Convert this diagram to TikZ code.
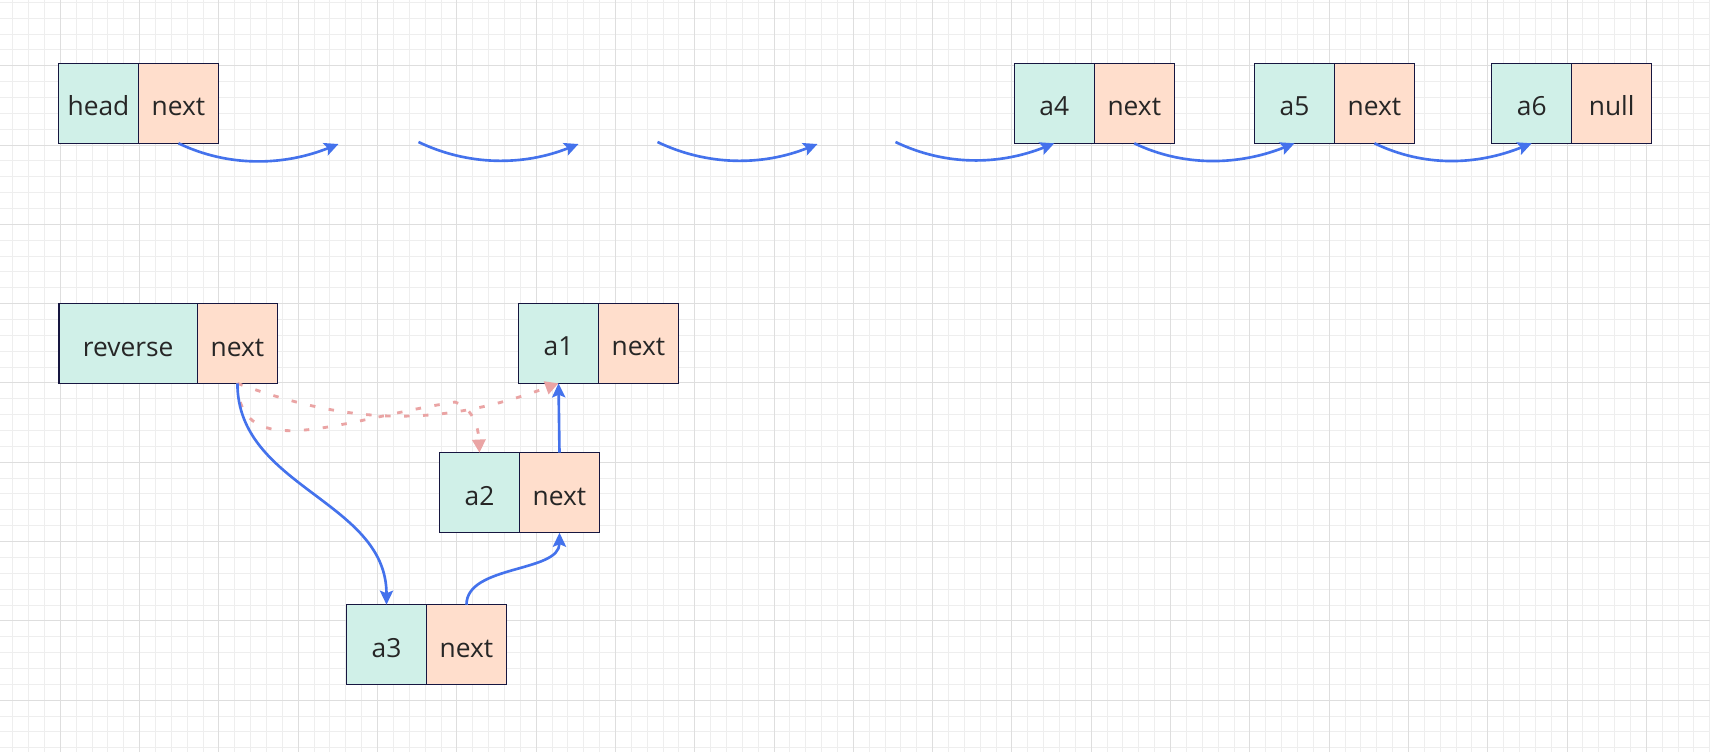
\documentclass[tikz,border=0pt]{standalone}
\usepackage{fontspec}
\setmainfont{Open Sans}
\usetikzlibrary{positioning,arrows.meta}
\definecolor{valcol}{RGB}{208,240,232}
\definecolor{nextcol}{RGB}{255,222,204}
\definecolor{boxline}{RGB}{22,22,64}
\definecolor{linkcol}{RGB}{68,114,236}
\definecolor{oldcol}{RGB}{234,164,164}
\definecolor{minorcol}{RGB}{238,238,238}
\definecolor{majorcol}{RGB}{222,222,222}
\tikzset{
  cell/.style={draw=boxline,line width=0.7pt,minimum width=1.6cm,minimum height=1.6cm,inner sep=0pt,outer sep=0pt,text height=14.4pt,text depth=0pt,font=\fontsize{15}{18}\selectfont,text=black!85},
  val/.style={cell,fill=valcol},
  nxt/.style={cell,fill=nextcol},
  link/.style={draw=linkcol,line width=1.5pt,-{Stealth[length=8pt,width=7.5pt,inset=1.5pt]}},
  oldlink/.style={draw=oldcol,line width=1.6pt,dash pattern=on 3.1pt off 7.7pt,-{Triangle[length=7.5pt,width=7.5pt]}},
  minorgrid/.style={draw=minorcol,line width=0.5pt},
  majorgrid/.style={draw=majorcol,line width=0.55pt}
}
\begin{document}
\begin{tikzpicture}[x=0.02cm,y=-0.02cm]
\useasboundingbox (0,0) rectangle (1710,752);
\fill[white] (0,0) rectangle (1710,752);

%%%%%%%%%%%%%%%%%%%%%%%% grid
\foreach \k in {-3,...,104} {\draw[minorgrid] (60.3+\k*15.86,0) -- (60.3+\k*15.86,752);}
\foreach \k in {-4,...,43} {\draw[minorgrid] (0,65.7+\k*15.86) -- (1710,65.7+\k*15.86);}
\foreach \k in {0,...,20} {\draw[majorgrid] (60.3+\k*79.3,0) -- (60.3+\k*79.3,752);}
\foreach \k in {0,...,8} {\draw[majorgrid] (0,65.7+\k*79.3) -- (1710,65.7+\k*79.3);}

%%%%%%%%%%%%%%%%%%%%%%%% top list
\node[val] (head) at (98.5,103.3) {head};\node[nxt,right=0pt of head] (headn) {next};
\node[val] (a4) at (1054.3,103.3) {a4};\node[nxt,right=0pt of a4] (a4n) {next};
\node[val] (a5) at (1294.5,103.3) {a5};\node[nxt,right=0pt of a5] (a5n) {next};
\node[val] (a6) at (1531.7,103.3) {a6};\node[nxt,right=0pt of a6] (a6n) {null};

\coordinate (p1) at (338.5,144);\coordinate (q1) at (418.5,142);
\coordinate (p2) at (578.5,144);\coordinate (q2) at (657.5,142);
\coordinate (p3) at (817.5,144);\coordinate (q3) at (895.5,142);

\draw[link] (headn.south) .. controls +(50,24) and +(-55,22) .. (p1);
\draw[link] (q1) .. controls +(50,24) and +(-55,22) .. (p2);
\draw[link] (q2) .. controls +(50,24) and +(-55,22) .. (p3);
\draw[link] (q3) .. controls +(50,24) and +(-55,22) .. (a4.south);
\draw[link] (a4n.south) .. controls +(50,24) and +(-55,22) .. (a5.south);
\draw[link] (a5n.south) .. controls +(50,24) and +(-55,22) .. (a6.south);

%%%%%%%%%%%%%%%%%%%%%%%% reversing
\node[val,minimum width=2.77cm] (rev) at (128.2,343.4) {reverse};\node[nxt,right=0pt of rev] (revn) {next};
\node[val] (a1) at (558.5,343.3) {a1};\node[nxt,right=0pt of a1] (a1n) {next};
\node[val] (a2) at (479.5,492.7) {a2};\node[nxt,right=0pt of a2] (a2n) {next};
\node[val] (a3) at (386.5,644.7) {a3};\node[nxt,right=0pt of a3] (a3n) {next};

\draw[oldlink] (revn.south) .. controls +(117,43) and +(-117,43) .. (a1.south);
\draw[oldlink] (revn.south) .. controls (240,465) and (340,420) .. (455,402) .. controls (468,406) and (478,420) .. (a2.north);

\draw[link] (revn.south) .. controls +(0,104) and +(0,-104) .. (a3.north);
\draw[link] (a3n.north) .. controls +(0,-40) and +(0,40) .. (a2n.south);
\draw[link] (a2n.north) -- (a1.south);

\end{tikzpicture}
\end{document}
